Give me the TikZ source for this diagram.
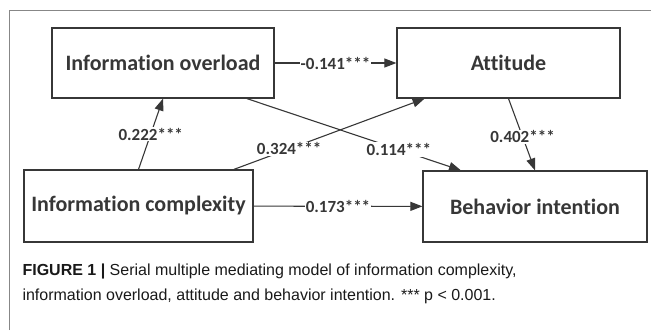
\documentclass[tikz,border=0pt]{standalone}
\usepackage{fontspec}
\setmainfont{Carlito}[Ligatures={NoCommon,NoRare,NoContextual}]
\newfontfamily\capfont{Liberation Sans}
\usepackage{tikz}
\usetikzlibrary{arrows.meta}
\definecolor{ink1}{RGB}{55,55,55}
\definecolor{rule1}{RGB}{135,135,135}

\begin{document}
\begin{tikzpicture}[x=1pt,y=-1pt,->,>={Triangle[length=12pt,width=9pt]},
                    line width=1.1pt,draw=ink1]
  \tikzstyle{box}=[rectangle,draw=ink1,line width=1.2pt,text=ink1,font=\fontsize{22}{24}\bfseries\selectfont,minimum height=70pt]
  \tikzstyle{coef}=[fill=white,inner sep=1pt,text=ink1,font=\fontsize{17}{20}\bfseries\selectfont]
  \useasboundingbox (0,0) rectangle (651,330);
  \draw[-,rule1,line width=1pt] (9,330) -- (9,10) -- (651,10);
  \node[box,minimum width=222pt]         (ov) at (163, 63)     {Information overload};
  \node[box,minimum width=223pt]         (att) at (508.5, 63)  {Attitude};
  \node[box,minimum width=229pt,minimum height=72pt] (cx) at (138.5, 206)  {Information complexity};
  \node[box,minimum width=224pt,minimum height=71pt] (bi) at (535, 206.5)  {Behavior intention};
  \path (ov) edge              node[coef] {-0.141***} (att);
  \path (cx.north) edge        node[coef] {0.222***} (ov.south);
  \path (cx.21) edge           node[coef,pos=0.29] {0.324***} (att.203.5);
  \path (ov.-23.6) edge        node[coef,pos=0.71] {0.114***} (bi.154.4);
  \path (att.south) edge       node[coef,pos=0.53] {0.402***} (bi.north);
  \path (cx) edge              node[coef] {0.173***} (bi);
  \node[anchor=base west,text=black!90,font=\capfont\fontsize{16}{18}\selectfont,inner sep=0pt] (cap1) at (22,275)
    {\textbf{FIGURE 1 |} Serial multiple mediating model of information complexity,};
  \node[anchor=base west,text=black!90,font=\capfont\fontsize{16}{18}\selectfont,inner sep=0pt] (cap2) at (22,300)
    {information overload, attitude and behavior intention. *** p < 0.001.};
\end{tikzpicture}
\end{document}
